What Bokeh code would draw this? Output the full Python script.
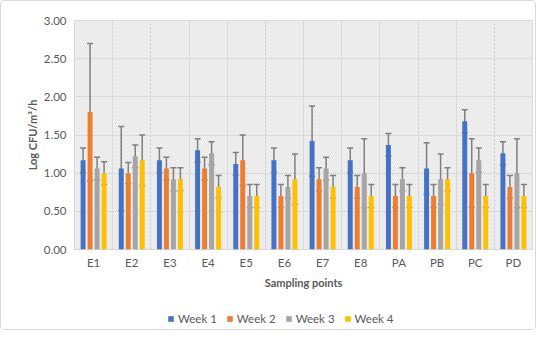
from bokeh.plotting import figure
from bokeh.layouts import column
from bokeh.models import (ColumnDataSource, FactorRange, Range1d, FixedTicker,
                          NumeralTickFormatter, Whisker, TeeHead, Legend, LegendItem,
                          BoxAnnotation)
from bokeh.transform import dodge
from bokeh.embed import file_html
from bokeh.resources import INLINE

categories = ["E1", "E2", "E3", "E4", "E5", "E6", "E7", "E8", "PA", "PB", "PC", "PD"]
series_names = ["Week 1", "Week 2", "Week 3", "Week 4"]
week1 = [1.17, 1.06, 1.17, 1.30, 1.12, 1.17, 1.42, 1.17, 1.37, 1.06, 1.68, 1.26]
week2 = [1.80, 1.00, 1.06, 1.06, 1.17, 0.70, 0.92, 0.82, 0.70, 0.70, 1.00, 0.82]
week3 = [1.06, 1.22, 0.92, 1.26, 0.70, 0.82, 1.06, 1.00, 0.92, 0.92, 1.17, 1.00]
week4 = [1.00, 1.17, 0.92, 0.82, 0.70, 0.92, 0.82, 0.70, 0.70, 0.92, 0.70, 0.70]
err1 = [0.16, 0.55, 0.16, 0.15, 0.15, 0.16, 0.46, 0.16, 0.15, 0.34, 0.15, 0.15]
err2 = [0.90, 0.14, 0.15, 0.15, 0.33, 0.15, 0.15, 0.15, 0.15, 0.15, 0.45, 0.15]
err3 = [0.15, 0.15, 0.15, 0.15, 0.15, 0.15, 0.15, 0.45, 0.15, 0.33, 0.16, 0.45]
err4 = [0.15, 0.33, 0.15, 0.15, 0.15, 0.33, 0.15, 0.15, 0.15, 0.15, 0.15, 0.15]
y_ticks = [0.0, 0.5, 1.0, 1.5, 2.0, 2.5, 3.0]

colors = ["#4472C4", "#ED7D31", "#A5A5A5", "#FFC000"]
offsets = [-0.275, -0.092, 0.092, 0.275]
values = [week1, week2, week3, week4]
errors = [err1, err2, err3, err4]

FONT = "Lato"
TXT = "#595959"

p = figure(width=534, height=296, x_range=FactorRange(*categories, range_padding=0),
           y_range=Range1d(0, 3), output_backend="svg", toolbar_location=None,
           min_border_left=73, min_border_right=3, min_border_top=19, min_border_bottom=48)
p.x_range.factor_padding = 0
p.background_fill_color = "#f5f5f5"
p.border_fill_color = "white"
p.outline_line_color = "#d9d9d9"
p.outline_line_width = 1

hatch = BoxAnnotation(fill_alpha=0, hatch_pattern="/", hatch_color="#dadada",
                      hatch_scale=4, hatch_weight=0.7, line_alpha=0, level="image")
p.add_layout(hatch)

sources = []
for i in range(4):
    src = ColumnDataSource(dict(
        cat=categories, val=values[i],
        upper=[v + e for v, e in zip(values[i], errors[i])],
        lower=[v - e for v, e in zip(values[i], errors[i])],
    ))
    sources.append(src)
    p.vbar(x=dodge("cat", offsets[i], range=p.x_range), top="val", width=0.13,
           source=src, fill_color=colors[i], line_color=None)
    w = Whisker(source=src, base=dodge("cat", offsets[i], range=p.x_range),
                upper="upper", lower="lower", line_color="#7f7f7f", line_width=1.5,
                upper_head=TeeHead(size=6, line_color="#7f7f7f", line_width=1.5),
                lower_head=TeeHead(size=6, line_color="#7f7f7f", line_width=1.5))
    p.add_layout(w)

# grids
p.xgrid.ticker = FixedTicker(ticks=list(range(len(categories) + 1)))
p.xgrid.grid_line_color = "#d9d9d9"
p.ygrid.ticker = FixedTicker(ticks=y_ticks)
p.ygrid.grid_line_color = "#d9d9d9"

# axes
for ax in (p.xaxis, p.yaxis):
    ax.axis_line_color = None
    ax.major_tick_line_color = None
    ax.minor_tick_line_color = None
    ax.major_tick_out = 0
    ax.major_tick_in = 0
    ax.major_label_text_font = FONT
    ax.major_label_text_font_size = "11.5px"
    ax.major_label_text_color = TXT
    ax.axis_label_text_font = FONT
    ax.axis_label_text_font_style = "bold"
    ax.axis_label_text_font_size = "11px"
    ax.axis_label_text_color = TXT

p.yaxis.ticker = FixedTicker(ticks=y_ticks)
p.yaxis.formatter = NumeralTickFormatter(format="0.00")
p.yaxis.major_label_standoff = 8
p.yaxis.axis_label = "Log CFU/m³/h"
p.yaxis.axis_label_standoff = 2
p.xaxis.major_label_standoff = 6
p.xaxis.axis_label = "Sampling points"
p.xaxis.axis_label_standoff = 4

# legend strip below the chart
lg = figure(width=534, height=32, x_range=p.x_range, y_range=Range1d(10, 11),
            output_backend="svg", toolbar_location=None,
            x_axis_location=None, y_axis_location=None,
            min_border_left=0, min_border_right=0, min_border_top=0, min_border_bottom=0)
lg.grid.visible = False
lg.outline_line_color = None
lg.background_fill_color = "white"
lg.border_fill_color = "white"
legend_renderers = []
for i in range(4):
    legend_renderers.append(lg.vbar(x=dodge("cat", offsets[i], range=p.x_range), top="val",
                                    width=0.13, source=sources[i],
                                    fill_color=colors[i], line_color=None))
legend = Legend(items=[LegendItem(label=n, renderers=[r])
                       for n, r in zip(series_names, legend_renderers)],
                orientation="horizontal", location=(93, 4))
legend.label_text_font = FONT
legend.label_text_font_size = "11.5px"
legend.label_text_color = TXT
legend.glyph_width = 7
legend.glyph_height = 7
legend.label_standoff = 4
legend.spacing = 9
legend.border_line_color = None
legend.background_fill_alpha = 0
legend.margin = 0
legend.padding = 0
lg.add_layout(legend)

layout = column(p, lg, spacing=0)
layout.styles = {"border": "1px solid #d9d9d9", "border-radius": "4px"}

open("out.html", "w").write(file_html(layout, INLINE))
